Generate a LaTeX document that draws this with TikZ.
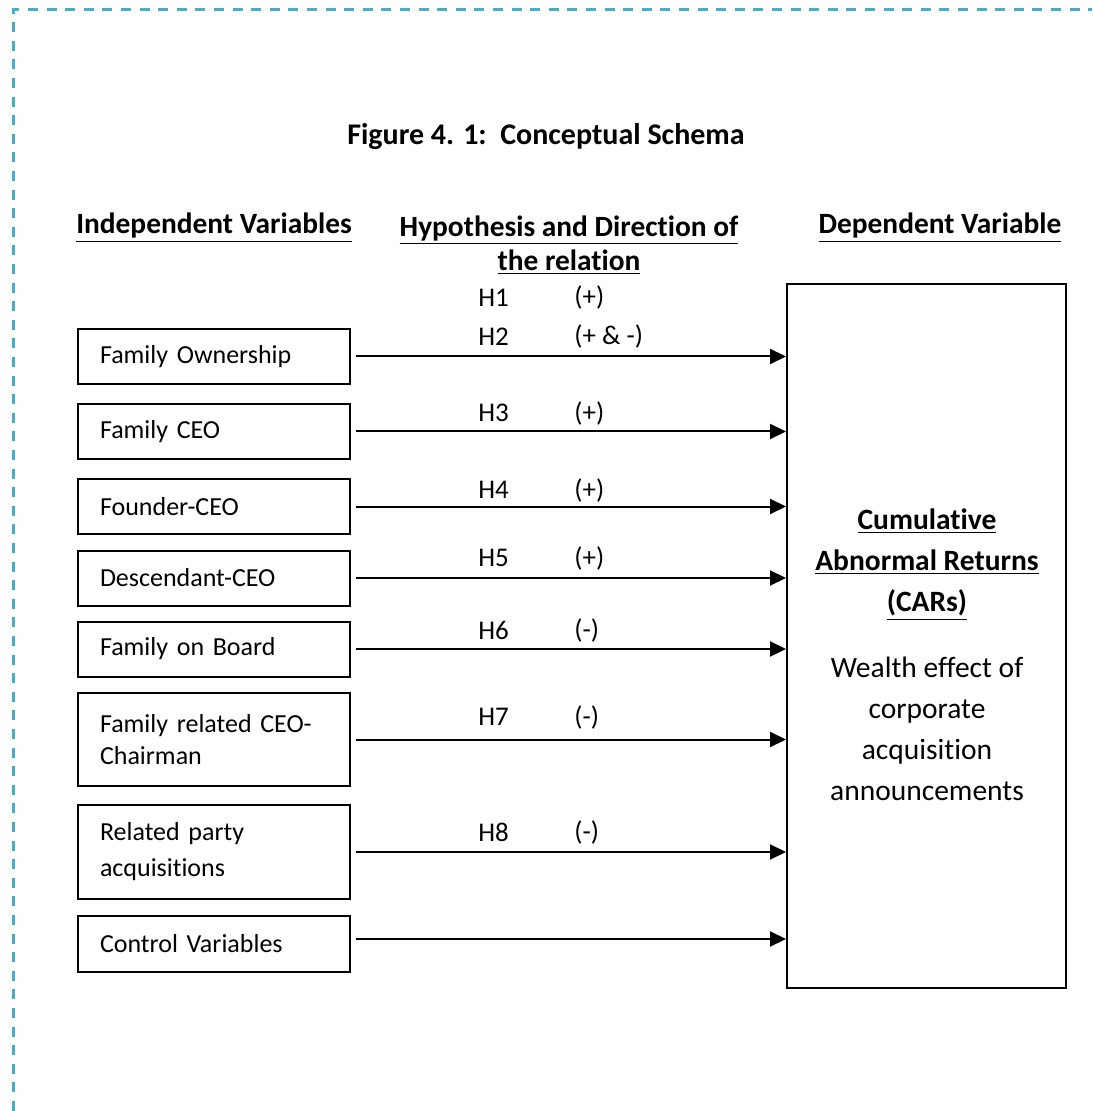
\documentclass[tikz,border=0pt]{standalone}
\usepackage{fontspec}
\setmainfont{Carlito}[Ligatures=NoCommon]
\usepackage{tikz}
\usetikzlibrary{arrows.meta,positioning}
\definecolor{frameaqua}{RGB}{75,172,198}

\tikzset{
  varbox/.style={draw,line width=1pt,minimum width=136pt,minimum height=27.5pt,
    inner xsep=11pt,text width=114pt,align=left,anchor=west},
  hyplabel/.style={anchor=west,inner sep=0pt,font=\fontsize{13.5}{16}\selectfont},
  relarrow/.style={-{Triangle[length=8pt,width=7.5pt]},line width=1pt,shorten <=2.5pt},
  header/.style={font=\fontsize{14.7}{17}\selectfont\bfseries,align=center},
}

\begin{document}
\begin{tikzpicture}[x=0.5pt,y=-0.5pt,font=\fontsize{13}{16}\selectfont]
  \useasboundingbox (0,0) rectangle (1092,1111);
  % page frame, only top and left edge show
  \draw[frameaqua,line width=1.5pt,dash pattern=on 5pt off 4.3pt] (13,1111) -- (13,10) -- (1092,10);

  % headings
  \node[header,font=\fontsize{15}{17}\selectfont\bfseries] (title) at (546,137) {Figure 4. 1:\ \ Conceptual Schema};
  \node[header] (indephead) at (214,228) {\underline{Independent Variables}};
  \node[header] (hyphead) at (569,245) {\underline{Hypothesis and Direction of}\\\underline{the relation}};
  \node[header] (dephead) at (940,228) {\underline{Dependent Variable}};

  % dependent variable
  \node[draw,line width=1pt,minimum width=139.5pt,minimum height=352pt] (car) at (926.5,636) {};
  \node[align=center,font=\fontsize{14.75}{20.5}\selectfont] (cartext) at (927,655)
    {\textbf{\underline{Cumulative}}\\\textbf{\underline{Abnormal Returns}}\\\textbf{\underline{(CARs)}}\\[12.5pt]
     Wealth effect of\\corporate\\acquisition\\announcements};

  % independent variables
  \node[varbox] (fo) at (77,356.5) {Family Ownership};
  \node[varbox] (fc) at (77,431.5) {Family CEO};
  \node[varbox] (fdc) at (77,506.5) {Founder-CEO};
  \node[varbox] (dc) at (77,578) {Descendant-CEO};
  \node[varbox] (fb) at (77,649) {Family on Board};
  \node[varbox,minimum height=46.5pt] (frcc) at (77,739.5) {Family related CEO-\\Chairman};
  \node[varbox,minimum height=47pt,font=\fontsize{13}{18}\selectfont] (rpa) at (77,852) {Related party\\acquisitions};
  \node[varbox,minimum height=28pt] (cv) at (77,944) {Control Variables};

  % relations
  \draw[relarrow] (fo.east) -- (fo.east -| car.west);
  \draw[relarrow] (fc.east) -- (fc.east -| car.west);
  \draw[relarrow] (fdc.east) -- (fdc.east -| car.west);
  \draw[relarrow] (dc.east) -- (dc.east -| car.west);
  \draw[relarrow] (fb.east) -- (fb.east -| car.west);
  \draw[relarrow] (frcc.east) -- (frcc.east -| car.west);
  \draw[relarrow] (rpa.east) -- (rpa.east -| car.west);
  \draw[relarrow] ([yshift=2.5pt]cv.east) -- ([yshift=2.5pt]cv.east -| car.west);

  % hypotheses and signs
  \node[hyplabel] (h1) at (478,298) {H1};  \node[hyplabel] (s1) at (574,298) {(+)};
  \node[hyplabel] (h2) at (478,337) {H2};  \node[hyplabel] (s2) at (574,337) {(+ \& -)};
  \node[hyplabel] (h3) at (478,413) {H3};  \node[hyplabel] (s3) at (574,413) {(+)};
  \node[hyplabel] (h4) at (478,490) {H4};  \node[hyplabel] (s4) at (574,490) {(+)};
  \node[hyplabel] (h5) at (478,558) {H5};  \node[hyplabel] (s5) at (574,558) {(+)};
  \node[hyplabel] (h6) at (478,630) {H6};  \node[hyplabel] (s6) at (574,630) {(-)};
  \node[hyplabel] (h7) at (478,717) {H7};  \node[hyplabel] (s7) at (574,717) {(-)};
  \node[hyplabel] (h8) at (478,832) {H8};  \node[hyplabel] (s8) at (574,832) {(-)};
\end{tikzpicture}
\end{document}
